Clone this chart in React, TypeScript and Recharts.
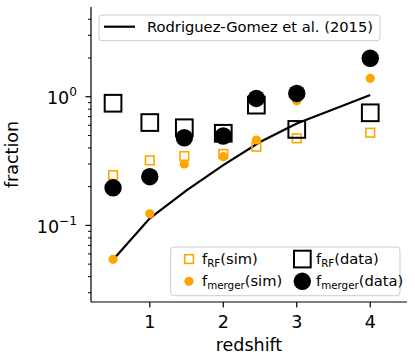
import React from "react";
import {
  ComposedChart,
  Line,
  Scatter,
  XAxis,
  YAxis,
  Customized,
} from "recharts";

// redshift positions of the measured points
const zPoints = [0.5, 1.0, 1.47, 2.0, 2.45, 3.0, 4.0];
const fRfSim = [0.246, 0.32, 0.346, 0.359, 0.409, 0.475, 0.525];
const fMergerSim = [0.0545, 0.123, 0.3, 0.342, 0.461, 0.93, 1.39];
const fRfData = [0.89, 0.63, 0.574, 0.52, 0.86, 0.557, 0.75];
const fMergerData = [0.196, 0.239, 0.48, 0.495, 0.97, 1.06, 1.99];

// Rodriguez-Gomez et al. (2015) curve
const rgZ = [0.5, 1.0, 1.5, 2.0, 2.5, 3.0, 3.5, 4.0];
const rgF = [0.054, 0.1135, 0.187, 0.294, 0.445, 0.62, 0.8, 1.03];

const xTicks = [1, 2, 3, 4];
const yTicks = [
  0.03, 0.04, 0.05, 0.06, 0.07, 0.08, 0.09, 0.1, 0.2, 0.3, 0.4, 0.5, 0.6,
  0.7, 0.8, 0.9, 1, 2, 3, 4,
];
const yMajor: Record<string, string> = { "0.1": "\u22121", "1": "0" };

const toPts = (xs: number[], ys: number[]) =>
  xs.map((x, i) => ({ x, y: ys[i] }));

const rfSimData = toPts(zPoints, fRfSim);
const mergerSimData = toPts(zPoints, fMergerSim);
const rfDataData = toPts(zPoints, fRfData);
const mergerDataData = toPts(zPoints, fMergerData);
const rgData = toPts(rgZ, rgF);

const FONT = "DejaVu Sans";
const ORANGE = "#FFA500";

const SquareShape = (size: number, color: string, sw: number) => (p: any) =>
  (
    <rect
      x={p.cx - size / 2}
      y={p.cy - size / 2}
      width={size}
      height={size}
      fill="none"
      stroke={color}
      strokeWidth={sw}
    />
  );

const CircleShape = (r: number, color: string) => (p: any) =>
  <circle cx={p.cx} cy={p.cy} r={r} fill={color} />;

const YTick = (props: any) => {
  const { x, y, payload } = props;
  const key = String(payload.value);
  const sup = yMajor[key];
  if (sup === undefined) {
    return <line x1={x - 3} x2={x} y1={y} y2={y} stroke="#000" strokeWidth={1} />;
  }
  return (
    <g>
      <line x1={x - 5.5} x2={x} y1={y} y2={y} stroke="#000" strokeWidth={1.2} />
      <text
        x={x - 14}
        y={y + 7.6}
        textAnchor="end"
        fontFamily={FONT}
        fontSize={17.5}
        fill="#000"
      >
        10
        <tspan fontSize={12.2} dy={-8.3}>
          {sup}
        </tspan>
      </text>
    </g>
  );
};

const XTick = (props: any) => {
  const { x, y, payload } = props;
  return (
    <g>
      <line x1={x} x2={x} y1={y} y2={y + 5.5} stroke="#000" strokeWidth={1.2} />
      <text
        x={x}
        y={y + 26}
        textAnchor="middle"
        fontFamily={FONT}
        fontSize={17.5}
        fill="#000"
      >
        {payload.value}
      </text>
    </g>
  );
};

const LegendLabel = ({ x, y, sub, tail }: any) => (
  <text x={x} y={y} fontFamily={FONT} fontSize={14.7} fill="#000">
    f
    <tspan fontSize={10.3} dy={3}>
      {sub}
    </tspan>
    <tspan dy={-3}>{tail}</tspan>
  </text>
);

const Legends = () => (
  <g>
    <rect
      x={99}
      y={15}
      width={281}
      height={25.7}
      rx={3}
      fill="#fff"
      fillOpacity={0.8}
      stroke="#cccccc"
      strokeWidth={1}
    />
    <line x1={104} x2={135} y1={26.7} y2={26.7} stroke="#000" strokeWidth={2.2} />
    <text x={147} y={31.7} fontFamily={FONT} fontSize={14.7} fill="#000">
      Rodriguez-Gomez et al. (2015)
    </text>

    <rect
      x={170.7}
      y={247}
      width={229.3}
      height={48.7}
      rx={3}
      fill="#fff"
      fillOpacity={0.8}
      stroke="#cccccc"
      strokeWidth={1}
    />
    <rect x={184.7} y={254.7} width={8.7} height={8.7} fill="none" stroke={ORANGE} strokeWidth={1.6} />
    <LegendLabel x={202} y={263.5} sub="RF" tail="(sim)" />
    <circle cx={189} cy={281.3} r={4.6} fill={ORANGE} />
    <LegendLabel x={202} y={285.8} sub="merger" tail="(sim)" />
    <rect x={294} y={250.7} width={16.7} height={16.7} fill="none" stroke="#000" strokeWidth={2} />
    <LegendLabel x={316} y={263.5} sub="RF" tail="(data)" />
    <circle cx={302.3} cy={281.3} r={8.7} fill="#000" />
    <LegendLabel x={316} y={285.8} sub="merger" tail="(data)" />
  </g>
);

export default function App() {
  return (
    <div style={{ position: "absolute", left: 0, top: 0, width: 415, height: 356, background: "#fff" }}>
      <ComposedChart
        width={415}
        height={356}
        margin={{ top: 7, right: 8, bottom: 0, left: 0 }}
      >
        <XAxis
          xAxisId="b"
          type="number"
          dataKey="x"
          domain={[0.2, 4.5]}
          ticks={xTicks}
          allowDataOverflow
          height={54}
          tickSize={0}
          tickMargin={0}
          tickLine={false}
          tick={<XTick />}
          axisLine={{ stroke: "#000", strokeWidth: 1.2 }}
          label={{
            value: "redshift",
            position: "insideBottom",
            offset: 5,
            style: { fontFamily: FONT, fontSize: 17.5, fill: "#000" },
          }}
        />
        <XAxis
          xAxisId="t"
          orientation="top"
          type="number"
          dataKey="x"
          domain={[0.2, 4.5]}
          allowDataOverflow
          height={0}
          tick={false}
          tickLine={false}
          axisLine={{ stroke: "#000", strokeWidth: 1.2 }}
        />
        <YAxis
          yAxisId="l"
          type="number"
          dataKey="y"
          scale="log"
          domain={[0.0254, 4.98]}
          allowDataOverflow
          ticks={yTicks}
          interval={0}
          width={91}
          tickSize={0}
          tickMargin={0}
          tickLine={false}
          tick={<YTick />}
          axisLine={{ stroke: "#000", strokeWidth: 1.2 }}
          label={{
            value: "fraction",
            angle: -90,
            position: "insideLeft",
            offset: 12,
            style: { fontFamily: FONT, fontSize: 17.5, fill: "#000", textAnchor: "middle" },
          }}
        />
        <YAxis
          yAxisId="r"
          orientation="right"
          type="number"
          dataKey="y"
          scale="log"
          domain={[0.0254, 4.98]}
          allowDataOverflow
          width={0}
          tick={false}
          tickLine={false}
          axisLine={{ stroke: "#000", strokeWidth: 1.2 }}
        />
        <Scatter
          xAxisId="b"
          yAxisId="l"
          data={rfSimData}
          dataKey="y"
          shape={SquareShape(8.7, ORANGE, 1.6)}
          isAnimationActive={false}
        />
        <Scatter
          xAxisId="b"
          yAxisId="l"
          data={mergerSimData}
          dataKey="y"
          shape={CircleShape(4.6, ORANGE)}
          isAnimationActive={false}
        />
        <Scatter
          xAxisId="b"
          yAxisId="l"
          data={rfDataData}
          dataKey="y"
          shape={SquareShape(16.7, "#000", 2)}
          isAnimationActive={false}
        />
        <Scatter
          xAxisId="b"
          yAxisId="l"
          data={mergerDataData}
          dataKey="y"
          shape={CircleShape(8.7, "#000")}
          isAnimationActive={false}
        />
        <Line
          xAxisId="b"
          yAxisId="l"
          data={rgData}
          dataKey="y"
          type="linear"
          stroke="#000"
          strokeWidth={2.2}
          dot={false}
          activeDot={false}
          isAnimationActive={false}
        />
        <Customized component={Legends} />
      </ComposedChart>
    </div>
  );
}
